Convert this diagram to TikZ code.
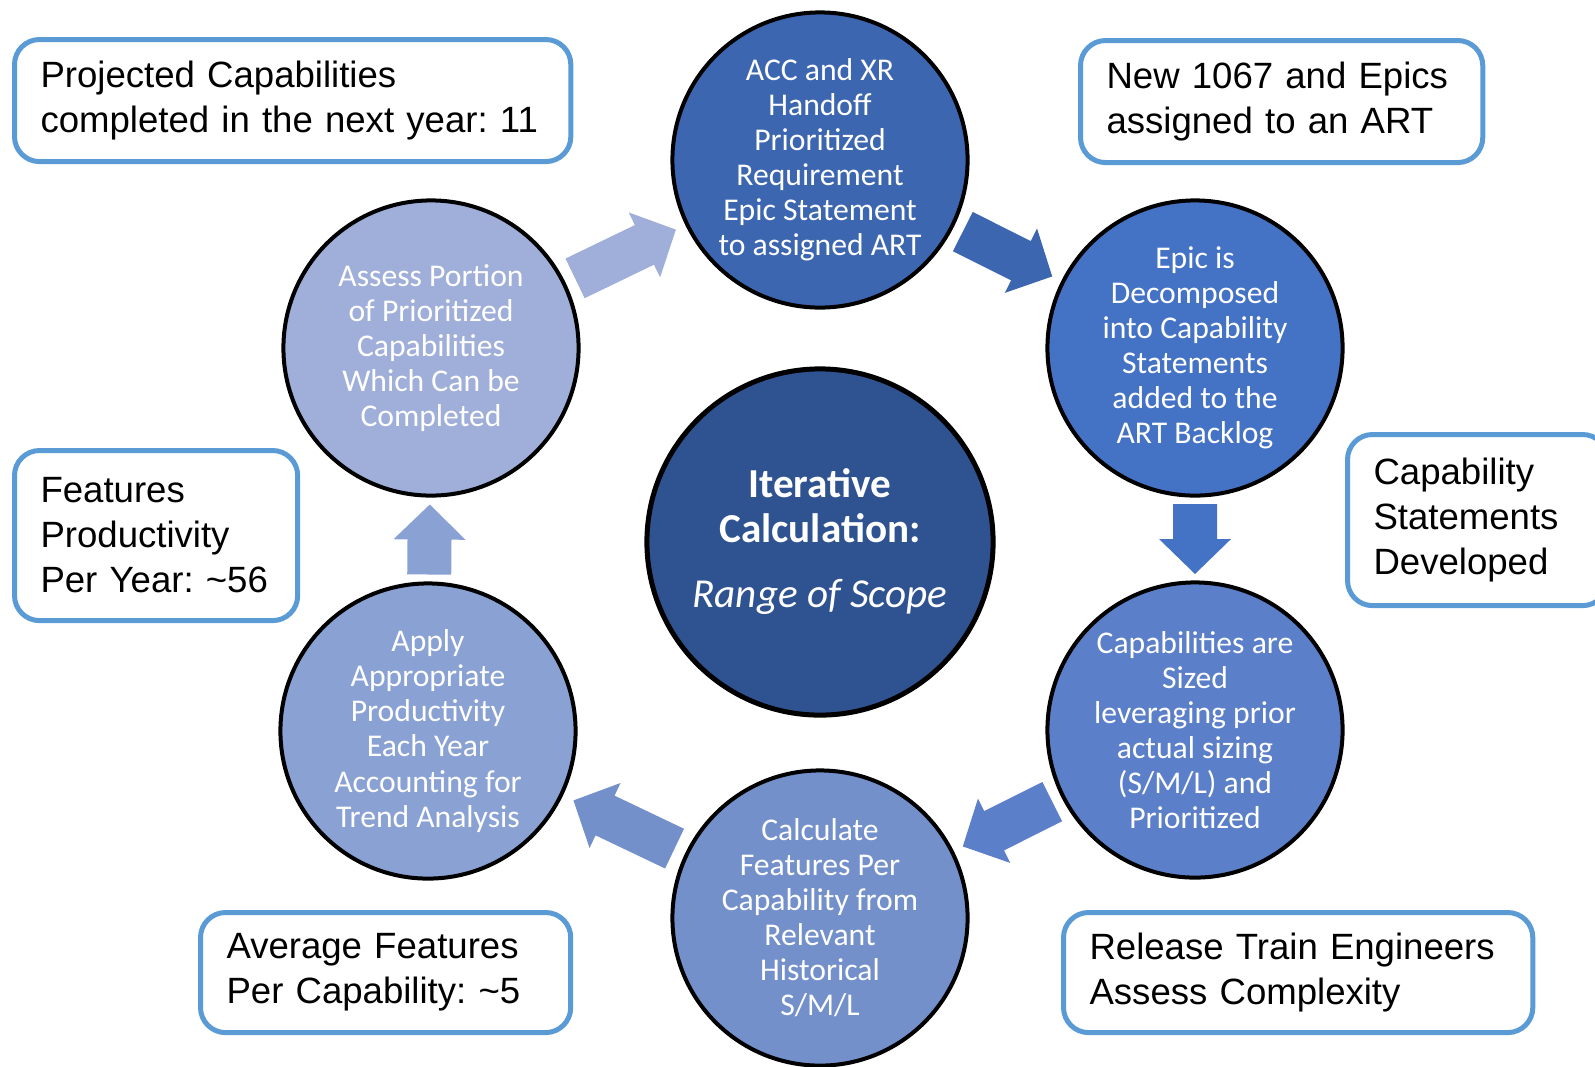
\documentclass[tikz,border=0pt]{standalone}
\usepackage{fontspec}
\usepackage{xcolor}
\usepackage{tikz}
\usetikzlibrary{shapes,arrows.meta}
\usetikzlibrary{positioning, calc}
\setmainfont{Liberation Sans}
\newfontfamily\calib{Carlito}
\frenchspacing

\definecolor{handoffblue}{HTML}{3D66B1}
\definecolor{decompblue}{HTML}{4472C4}
\definecolor{sizingblue}{HTML}{5B7FC8}
\definecolor{calcblue}{HTML}{7390CB}
\definecolor{prodblue}{HTML}{8AA1D4}
\definecolor{assessblue}{HTML}{A0AFD9}
\definecolor{coreblue}{HTML}{2F5290}
\definecolor{noteline}{HTML}{5B9BD5}

\tikzset{
  stage/.style={circle, draw=black, line width=0.04cm, minimum size=2.95cm,
    inner sep=0pt, text=white, align=center,
    font=\calib\fontsize{9}{9.96}\selectfont},
  notebox/.style={draw=noteline, line width=0.05cm, rounded corners=0.25cm,
    fill=white, anchor=north west, inner xsep=0.26cm, inner ysep=0pt,
    align=left, font=\fontsize{10.4}{12.8}\selectfont},
  pics/flowarrow/.style 2 args={code={
    \fill[#2] (-#1,-22) -- (#1-35,-22) -- (#1-35,-36) -- (#1,0)
      -- (#1-35,36) -- (#1-35,22) -- (-#1,22) -- cycle;
  }}
}

\begin{document}
\begin{tikzpicture}[x=0.01cm, y=-0.01cm]
\useasboundingbox (0,0) rectangle (1595,1066);
\clip (0,0) rectangle (1595,1066);

% the cycle
\node[stage, fill=handoffblue] (handoff) at (820,160)
  {ACC and XR\\Handoff\\Prioritized\\Requirement\\Epic Statement\\to assigned ART};
\node[stage, fill=decompblue] (decomp) at (1195,348)
  {Epic is\\Decomposed\\into Capability\\Statements\\added to the\\ART Backlog};
\node[stage, fill=sizingblue] (sizing) at (1195,730)
  {Capabilities are\\Sized\\leveraging prior\\actual sizing\\(S/M/L) and\\Prioritized};
\node[stage, fill=calcblue] (calcfeat) at (820,918)
  {Calculate\\Features Per\\Capability from\\Relevant\\Historical\\S/M/L};
\node[stage, fill=prodblue] (prod) at (428,731)
  {Apply\\Appropriate\\Productivity\\Each Year\\Accounting for\\Trend Analysis};
\node[stage, fill=assessblue] (assess) at (431,348)
  {Assess Portion\\of Prioritized\\Capabilities\\Which Can be\\Completed};

\node[circle, draw=black, line width=0.05cm, minimum size=3.46cm, fill=coreblue,
  text=white, align=center, font=\calib\fontsize{11.7}{12.8}\selectfont] (core) at (820,542)
  {\bfseries Iterative\\\bfseries Calculation:\\[0.2cm]\itshape Range of Scope};

% block arrows between the stages
\foreach \a/\b/\l/\c in {
    assess/handoff/56/assessblue, handoff/decomp/50/handoffblue,
    decomp/sizing/35/decompblue, sizing/calcfeat/50/sizingblue,
    calcfeat/prod/56/calcblue, prod/assess/35/prodblue}
  \path let \p1=($(\b)-(\a)$), \n1={atan2(\y1,\x1)} in
    ($(\a)!0.5!(\b)$) pic[rotate=\n1] {flowarrow={\l}{\c}};

% notes
\node[notebox, minimum width=5.56cm, minimum height=1.22cm, text width=5.04cm] (projbox) at (12,37)
  {Projected Capabilities\\completed in the next year: 11};
\node[notebox, minimum width=4.02cm, minimum height=1.22cm, text width=3.50cm] (newbox) at (1078,38)
  {New 1067 and Epics\\assigned to an ART};
\node[notebox, minimum width=2.83cm, minimum height=1.70cm, text width=2.31cm] (featbox) at (12,448)
  {Features\\Productivity\\Per Year: \textasciitilde56};
\node[notebox, minimum width=2.60cm, minimum height=1.71cm, text width=2.08cm] (capbox) at (1345,432)
  {Capability\\Statements\\Developed};
\node[notebox, minimum width=3.70cm, minimum height=1.20cm, text width=3.18cm] (avgbox) at (198,910)
  {Average Features\\Per Capability: \textasciitilde5};
\node[notebox, minimum width=4.69cm, minimum height=1.20cm, text width=4.17cm] (rtebox) at (1061,910)
  {Release Train Engineers\\Assess Complexity};

\end{tikzpicture}
\end{document}
